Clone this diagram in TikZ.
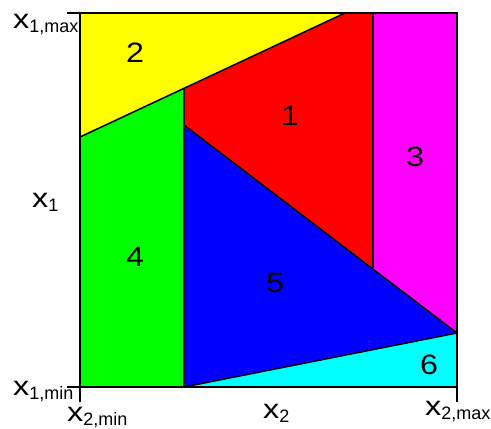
\documentclass[tikz,border=0pt]{standalone}
\usepackage{fontspec}
\setmainfont{Liberation Sans}
\usetikzlibrary{calc}
\definecolor{regionA}{HTML}{FF0000}
\definecolor{regionB}{HTML}{FFFF00}
\definecolor{regionC}{HTML}{FF00FF}
\definecolor{regionD}{HTML}{00FF00}
\definecolor{regionE}{HTML}{0000FF}
\definecolor{regionF}{HTML}{00FFFF}
\newcommand{\varlbl}[1]{\scalebox{1.2}[1]{x}{\fontsize{18}{18}\selectfont\raisebox{-4pt}{#1}}}
\newcommand{\regnum}[1]{\scalebox{1.15}[1]{#1}}

\begin{document}
\begin{tikzpicture}[x=1pt, y=-1pt,
  edge/.style={line width=1.5pt, line join=round},
  frame/.style={line width=2pt},
  num/.style={font=\fontsize{28}{28}\selectfont},
  axislbl/.style={font=\fontsize{27}{27}\selectfont, inner sep=0pt, anchor=base west}]
  \useasboundingbox (0,0) rectangle (491,429);
  % Corners of the domain
  \coordinate (tl) at (80,13);
  \coordinate (tr) at (457,13);
  \coordinate (bl) at (80,387);
  \coordinate (br) at (457,387);
  % Break points of the boundaries
  \coordinate (ya) at (80,137);
  \coordinate (yb) at (345,13);
  \coordinate (gt) at (184,88.3);
  \coordinate (rb) at (184,125);
  \coordinate (ra) at (373,268);
  \coordinate (rt) at (373,13);
  \coordinate (me) at (457,333);
  \coordinate (cb) at (184,387);
  % Regions
  \fill[regionA] (gt) -- (rb) -- (ra) -- (rt) -- (yb) -- cycle;
  \fill[regionB] (tl) -- (yb) -- (ya) -- cycle;
  \fill[regionC] (rt) -- (tr) -- (me) -- (ra) -- cycle;
  \fill[regionD] (ya) -- (gt) -- (cb) -- (bl) -- cycle;
  \fill[regionE] (rb) -- (me) -- (cb) -- cycle;
  \fill[regionF] (cb) -- (me) -- (br) -- cycle;
  % Boundaries
  \draw[edge] (ya) -- (yb);
  \draw[edge] (gt) -- (cb);
  \draw[edge] (rb) -- (me);
  \draw[edge] (rt) -- (ra);
  \draw[edge] (cb) -- (me);
  \draw[frame] (tl) rectangle (br);
  \draw[frame] (tl) -- ++(-13,0);
  \draw[frame] (bl) -- ++(-13,0);
  \draw[frame] (bl) -- ++(0,15);
  \draw[frame] (br) -- ++(0,15);
  % Region numbers
  \node[num] (n1) at (290,116) {\regnum{1}};
  \node[num] (n2) at (135,53) {\regnum{2}};
  \node[num] (n3) at (415,157) {\regnum{3}};
  \node[num] (n4) at (135,257) {\regnum{4}};
  \node[num] (n5) at (275,283) {\regnum{5}};
  \node[num] (n6) at (429,365) {\regnum{6}};
  % Axis labels
  \node[axislbl] (x1max) at (13,28) {\varlbl{1,max}};
  \node[axislbl] (x1) at (32,207.7) {\varlbl{1}};
  \node[axislbl] (x1min) at (13,395.5) {\varlbl{1,min}};
  \node[axislbl] (x2min) at (67,421.5) {\varlbl{2,min}};
  \node[axislbl] (x2) at (263,418) {\varlbl{2}};
  \node[axislbl] (x2max) at (425,415) {\varlbl{2,max}};
\end{tikzpicture}
\end{document}
